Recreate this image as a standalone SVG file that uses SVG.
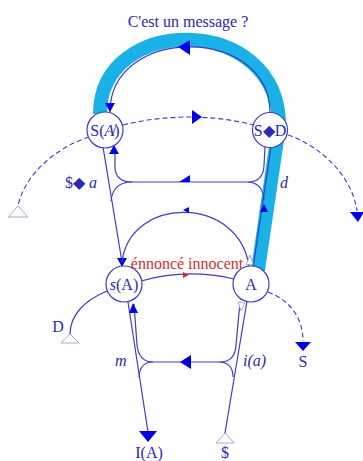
<svg xmlns="http://www.w3.org/2000/svg" width="363" height="461" viewBox="0 0 363 461">
<style>
.ln{fill:none;stroke:#3c3cc8;stroke-width:1.2}
.dash{fill:none;stroke:#3c3cc8;stroke-width:1.1;stroke-dasharray:5 3}
.ah{fill:#0000e6;stroke:none}
.hol{fill:#fff;stroke:#a8a8d0;stroke-width:1}
.nd{fill:#fff;stroke:#3c3cc8;stroke-width:1.2}
.t{font-family:"Liberation Serif","Times New Roman",serif;fill:#2a2ab4;font-size:16px}
.it{font-style:italic}
</style>
<rect width="363" height="461" fill="#fff"/>
<g id="connectors">
  <!-- cyan band -->
  <path d="M 100 114 C 100 13, 280 13, 279 126 L 258 270" fill="none" stroke="#1ab2e6" stroke-width="14" stroke-linejoin="round"/>
  <!-- thin line inside cyan arc -->
  <path class="ln" d="M 270 113 C 270 25, 110 25, 110 112"/>
  <polygon class="ah" points="178,47 190,40 190,55"/>
  <polygon class="ah" points="105,103 115,103 110,112"/>
  <!-- top dashed arc -->
  <path class="dash" d="M 89 137 C 60 146, 25 172, 18 206"/>
  <path class="dash" d="M 123 125 Q 189 109 254 125"/>
  <path class="dash" d="M 288 135 C 320 146, 352 175, 357 211"/>
  <polygon class="ah" points="192,110 192,124 202,117"/>
  <polygon class="hol" points="18,206 8,217 28,217"/>
  <polygon class="ah" points="350,212 364,212 358,222"/>
  <!-- d line -->
  <path class="ln" d="M 271 147 L 253 268"/>
  <polygon class="ah" points="260,212 268,212 264,204"/>
  <!-- left vertical from S(A) to s(A) -->
  <path class="ln" d="M 103 147 L 122 262"/>
  <polygon class="ah" points="117,258 127,258 122,267"/>
  <!-- upper bracket -->
  <path class="ln" d="M 115 149 L 115 168 Q 116 182 132 182 L 248 182 Q 263 182 264 166 L 265 147"/>
  <path class="ln" d="M 132 182 Q 113 182 111 201"/>
  <path class="ln" d="M 248 182 Q 263 183 264 200"/>
  <polygon class="ah" points="109,154 119,154 114,145"/>
  <polygon class="ah" points="179,182 190,175 190,182"/>
  <!-- big arc A to s(A) -->
  <path class="ln" d="M 249 267 C 240 195, 130 195, 122 262"/>
  <polygon class="ah" points="183,210 189,207 189,213"/>
  <!-- s(A) to A -->
  <path class="ln" d="M 141 281 Q 187 268 234 279"/>
  <polygon points="183,272 189,275 183,278" fill="#d03030"/>
  <!-- lower bracket -->
  <path class="ln" d="M 128 302 L 148 432"/>
  <path class="ln" d="M 247 301 L 225 433"/>
  <path class="ln" d="M 134 304 L 137 345 Q 139 362 153 362 L 220 362 Q 235 362 236 345 L 240 302"/>
  <path class="ln" d="M 153 362 Q 140 362 139 377"/>
  <path class="ln" d="M 220 362 Q 233 363 233 377"/>
  <polygon class="ah" points="129,313 138,313 133,303"/>
  <polygon class="ah" points="180,362 191,355 191,369"/>
  <polygon class="ah" points="139,431 157,431 148,442"/>
  <polygon class="hol" points="225,433 216,443 234,443"/>
  <!-- D arc -->
  <path class="ln" d="M 107 291 C 85 300, 70 315, 70 334"/>
  <polygon class="hol" points="70,334 61,343 79,343"/>
  <!-- dashed to S -->
  <path class="dash" d="M 268 292 C 290 300, 303 318, 303 341"/>
  <polygon class="ah" points="295,342 311,342 303,351"/>
  <!-- faint marks at A -->
  <polygon class="hol" points="250,255 246,265 253,264"/>
  <polygon class="hol" points="238,302 245,303 241,311"/>
</g>
<g id="node-SA">
  <circle class="nd" cx="105" cy="130" r="18"/>
  <text class="t" x="105" y="136" text-anchor="middle">S(<tspan class="it">A̸</tspan>)</text>
</g>
<g id="node-SD">
  <circle class="nd" cx="270" cy="130" r="17.5"/>
  <text class="t" x="270" y="136" text-anchor="middle">S◆D</text>
</g>
<g id="node-sA">
  <circle class="nd" cx="124" cy="284" r="18"/>
  <text class="t" x="124" y="290" text-anchor="middle"><tspan class="it">s</tspan>(A)</text>
</g>
<g id="node-A">
  <circle class="nd" cx="251" cy="284" r="18"/>
  <text class="t" x="251" y="290" text-anchor="middle">A</text>
</g>
<g id="labels">
  <text class="t" x="188" y="27" text-anchor="middle" fill="#3030c0">C'est un message ?</text>
  <text class="t" x="187" y="269" text-anchor="middle" style="fill:#d03030">énnoncé innocent</text>
  <text class="t" x="65" y="188">$◆ <tspan class="it">a</tspan></text>
  <text class="t it" x="280" y="188">d</text>
  <text class="t it" x="115" y="366">m</text>
  <text class="t it" x="243" y="366">i(a)</text>
  <text class="t" x="58" y="332" text-anchor="middle">D</text>
  <text class="t" x="303" y="367" text-anchor="middle">S</text>
  <text class="t" x="149" y="458" text-anchor="middle">I(A)</text>
  <text class="t" x="225" y="458" text-anchor="middle">$</text>
</g>
</svg>
